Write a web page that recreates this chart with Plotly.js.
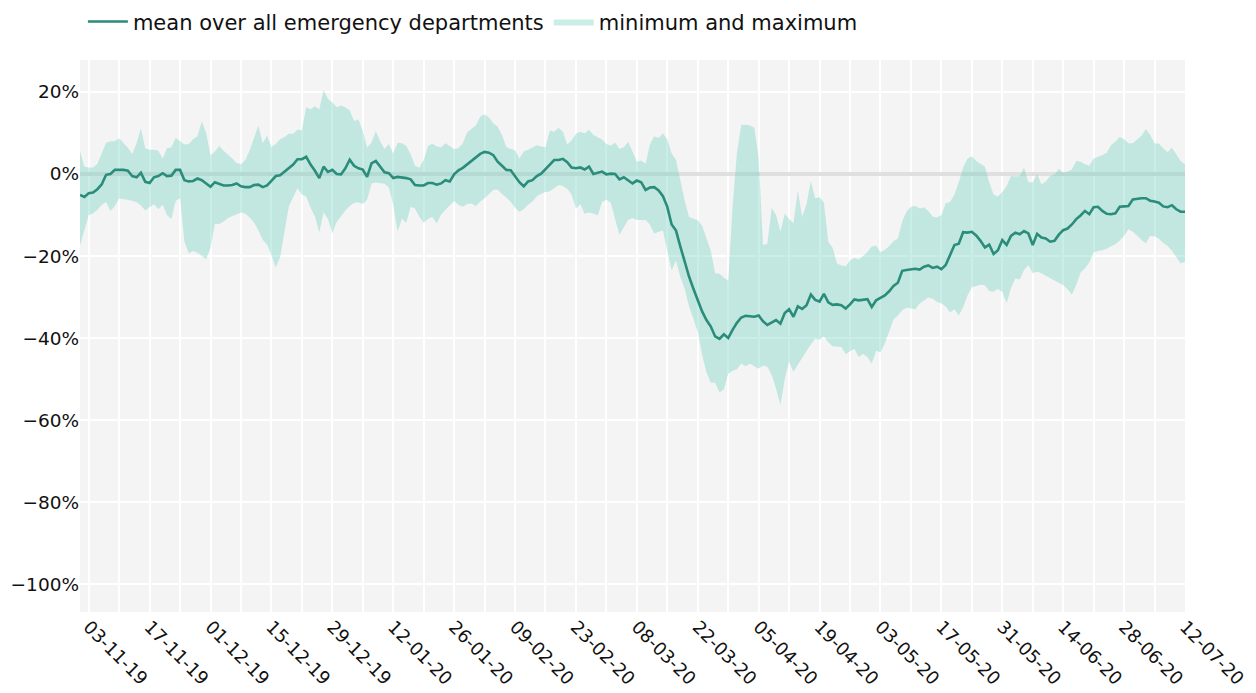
<!DOCTYPE html>
<html>
<head>
<meta charset="utf-8">
<script src="https://cdn.plot.ly/plotly-3.0.1.min.js"></script>
<style>html,body{margin:0;padding:0;background:#fff;}#chart{width:1256px;height:693px;}</style>
</head>
<body>
<div id="chart"></div>
<script>
// Daily series, first day 2019-11-01, last day 2020-07-12 (values in %)
var startDate = '2019-11-01';

var meanValues = [
-5.1,-5.6,-4.7,-4.5,-3.7,-2.5,-0.2,0.0,1.0,1.0,
1.0,0.8,-0.5,-0.8,0.3,-1.9,-2.2,-0.8,-0.5,0.2,
-0.5,-0.4,1.0,1.0,-1.5,-1.8,-1.7,-1.1,-1.5,-2.3,
-3.1,-2.0,-2.4,-2.8,-2.8,-2.7,-2.3,-3.0,-3.2,-3.2,
-2.7,-2.6,-3.2,-2.8,-1.7,-0.5,-0.3,0.5,1.3,2.3,
3.6,3.6,4.2,2.3,0.8,-1.0,1.8,0.5,1.0,0.0,
-0.1,1.4,3.5,2.0,1.4,1.1,-0.7,2.6,3.2,1.8,
0.4,0.2,-1.0,-0.7,-0.8,-1.0,-1.3,-2.7,-2.8,-2.8,
-2.2,-2.2,-2.6,-2.3,-1.5,-1.8,-0.1,0.9,1.5,2.4,
3.3,4.2,4.9,5.4,5.2,4.6,3.0,2.0,1.0,0.9,
-0.7,-2.0,-3.0,-1.8,-1.5,-0.5,0.1,1.2,2.3,3.4,
3.4,3.7,2.9,1.6,1.4,1.6,1.1,1.8,0.0,0.3,
0.6,-0.1,0.1,0.0,-1.3,-0.8,-1.6,-2.3,-1.6,-2.0,
-3.9,-3.3,-3.2,-4.0,-5.4,-8.0,-12.3,-13.8,-17.7,-21.5,
-25.0,-28.0,-30.8,-33.5,-35.6,-37.2,-39.6,-40.2,-39.1,-40.0,
-38.0,-36.3,-35.0,-34.6,-34.7,-34.8,-34.5,-35.9,-36.8,-36.2,
-35.6,-36.5,-33.9,-33.0,-34.8,-32.3,-32.9,-32.0,-29.4,-30.7,
-31.1,-29.2,-31.3,-31.9,-31.8,-32.0,-32.8,-31.8,-30.6,-30.8,
-30.7,-30.5,-32.4,-30.8,-30.2,-29.6,-28.6,-27.3,-26.5,-23.6,
-23.4,-23.3,-23.1,-23.3,-22.6,-22.3,-22.9,-22.6,-23.2,-22.2,
-19.5,-17.3,-17.0,-14.2,-14.3,-14.1,-15.0,-16.3,-17.9,-17.2,
-19.5,-18.6,-16.1,-17.3,-15.1,-14.3,-14.7,-13.9,-14.5,-17.3,
-14.6,-15.5,-15.7,-16.5,-16.3,-14.8,-13.7,-13.3,-12.3,-11.0,
-10.1,-9.0,-9.8,-8.1,-8.0,-9.0,-9.7,-9.8,-9.6,-8.0,
-7.9,-7.8,-6.2,-6.0,-5.9,-5.9,-6.5,-6.7,-7.0,-7.9,
-8.1,-7.6,-8.6,-9.2,-9.2
];

var maxValues = [
5.6,1.8,1.6,1.6,2.5,5.0,7.6,8.0,8.0,8.7,
7.6,6.4,4.9,7.5,11.1,6.2,5.9,5.9,5.7,3.8,
6.3,6.5,8.8,7.9,7.2,7.3,8.5,9.2,12.8,10.0,
4.6,5.5,6.8,5.7,4.8,3.8,2.7,2.4,3.4,5.8,
8.8,11.8,7.5,9.4,6.6,7.3,8.5,9.0,9.8,9.8,
10.8,10.7,16.3,15.8,16.5,15.7,20.5,18.3,17.5,16.3,
16.7,16.3,15.5,12.9,13.3,10.5,6.4,7.7,10.4,8.0,
6.1,7.3,5.0,7.6,7.5,6.8,4.8,2.0,1.5,3.4,
6.8,7.4,6.7,6.5,7.5,6.7,6.1,6.3,7.5,10.2,
10.9,11.8,14.0,14.6,13.8,12.4,11.5,9.5,6.5,6.1,
5.8,3.8,5.5,5.9,6.5,7.0,6.7,6.5,10.6,10.3,
11.3,10.3,7.2,8.2,9.8,10.3,9.9,10.8,9.5,9.0,
8.4,7.3,6.9,7.7,6.1,6.5,7.8,5.5,3.0,3.3,
2.5,7.2,9.2,8.8,9.9,8.5,5.0,3.4,-1.5,-6.5,
-10.5,-11.0,-11.3,-12.6,-15.5,-18.8,-24.2,-24.3,-25.3,-26.0,
-8.0,5.0,12.0,12.0,11.8,11.3,4.0,-17.3,-17.0,-8.3,
-10.0,-14.0,-9.7,-11.0,-12.0,-4.0,-10.5,-7.4,-1.7,-6.0,
-5.6,-7.0,-16.5,-18.0,-21.8,-22.3,-22.5,-21.0,-20.5,-20.8,
-20.0,-19.0,-17.7,-17.5,-19.0,-18.5,-17.6,-16.4,-15.7,-11.5,
-9.2,-8.0,-7.8,-8.4,-8.1,-9.0,-10.4,-10.6,-10.0,-7.1,
-6.8,-5.0,-2.0,1.6,3.7,4.3,3.2,2.5,1.8,-2.0,
-5.0,-5.5,-4.4,-3.0,-0.5,-0.6,-0.5,1.5,-2.0,-2.0,
0.0,-2.5,-1.8,-0.5,-0.1,1.3,0.3,0.6,1.1,3.2,
3.0,2.4,2.0,3.8,4.2,4.6,5.2,7.0,7.9,9.0,
8.5,7.5,7.5,8.4,9.3,10.9,9.5,7.5,7.4,6.3,
5.3,6.4,4.7,3.2,2.4
];

var minValues = [
-17.5,-13.5,-10.0,-9.6,-8.7,-7.5,-6.8,-9.0,-7.8,-6.0,
-6.1,-6.3,-6.5,-6.9,-7.6,-8.9,-8.1,-7.4,-8.6,-7.5,
-10.0,-11.0,-6.5,-6.0,-16.5,-19.3,-18.8,-19.2,-20.0,-20.8,
-18.0,-12.2,-12.2,-11.6,-10.7,-10.3,-9.8,-9.4,-9.7,-10.6,
-11.8,-13.7,-16.0,-17.2,-19.8,-22.8,-20.3,-14.0,-7.9,-5.6,
-3.5,-5.0,-5.5,-8.2,-10.3,-14.2,-9.3,-11.0,-14.5,-11.7,
-10.2,-8.9,-7.8,-7.0,-6.9,-7.3,-6.3,-2.3,-2.1,-2.3,
-2.4,-3.3,-7.5,-14.0,-10.9,-11.9,-8.0,-8.4,-10.4,-11.9,
-10.9,-10.5,-12.0,-9.9,-8.7,-7.6,-6.6,-7.5,-8.0,-7.3,
-7.2,-7.8,-6.7,-6.0,-4.9,-3.9,-3.8,-4.9,-5.7,-6.8,
-8.2,-9.2,-8.6,-7.5,-6.7,-5.4,-4.8,-4.4,-4.2,-3.4,
-2.7,-2.9,-3.6,-5.0,-8.5,-7.3,-9.7,-9.4,-9.6,-10.1,
-6.8,-6.3,-7.0,-11.0,-14.8,-13.0,-11.2,-10.7,-11.2,-11.2,
-11.2,-12.3,-14.5,-14.1,-13.8,-18.8,-23.5,-21.1,-25.1,-28.0,
-32.3,-35.3,-38.5,-44.0,-48.4,-50.9,-50.9,-53.3,-52.5,-48.7,
-48.0,-47.6,-46.2,-46.9,-46.2,-46.9,-47.5,-46.7,-47.0,-49.0,
-52.3,-56.3,-50.0,-45.8,-48.2,-46.5,-44.8,-43.0,-41.5,-40.2,
-40.4,-39.6,-41.0,-42.0,-42.1,-42.2,-43.9,-43.3,-42.6,-44.6,
-43.8,-44.6,-46.2,-43.1,-43.5,-41.3,-38.5,-35.5,-34.5,-33.2,
-32.6,-32.8,-33.0,-31.6,-30.8,-30.1,-30.4,-31.2,-31.6,-32.3,
-33.8,-33.0,-34.5,-32.5,-29.6,-27.6,-27.3,-27.0,-27.1,-28.5,
-28.7,-28.0,-28.8,-31.5,-27.8,-25.5,-25.7,-23.4,-22.2,-24.2,
-23.8,-24.2,-24.8,-25.4,-25.9,-26.4,-27.1,-28.1,-29.4,-27.0,
-24.0,-23.0,-21.6,-19.2,-18.8,-18.6,-18.2,-17.6,-17.1,-16.2,
-15.1,-13.5,-14.1,-15.0,-16.1,-16.9,-15.1,-15.2,-15.8,-16.8,
-17.5,-18.7,-20.2,-21.8,-21.4
];

var yTickValues = [-100, -80, -60, -40, -20, 0, 20];
var yTickLabels = ['\u2212100%', '\u221280%', '\u221260%', '\u221240%', '\u221220%', '0%', '20%'];
var seriesNames = ['mean over all emergency departments', 'minimum and maximum'];

function buildDates(start, n) {
  var out = [];
  var t0 = Date.parse(start + 'T00:00:00Z');
  for (var i = 0; i < n; i++) {
    var d = new Date(t0 + i * 86400000);
    out.push(d.toISOString().slice(0, 10));
  }
  return out;
}
var dates = buildDates(startDate, meanValues.length);

var lineColor = '#2a8c7a';
var fillColor = 'rgba(100,205,185,0.35)';
var DAY = 86400000;

var traces = [
  {
    x: dates, y: minValues, type: 'scatter', mode: 'lines',
    line: {width: 0, color: fillColor}, showlegend: false, hoverinfo: 'skip'
  },
  {
    x: dates, y: maxValues, type: 'scatter', mode: 'lines',
    fill: 'tonexty', fillcolor: fillColor,
    line: {width: 0, color: fillColor},
    name: seriesNames[1], legendrank: 2
  },
  {
    x: dates, y: meanValues, type: 'scatter', mode: 'lines',
    line: {width: 2.6, color: lineColor},
    name: seriesNames[0], legendrank: 1
  }
];

var layout = {
  width: 1256, height: 693,
  margin: {l: 80, r: 71, t: 60, b: 81},
  paper_bgcolor: '#ffffff',
  plot_bgcolor: '#f4f4f4',
  font: {family: 'DejaVu Sans, Verdana, sans-serif', size: 18, color: '#111111'},
  showlegend: true,
  legend: {
    orientation: 'h', xref: 'container', x: 0.066, xanchor: 'left',
    yref: 'container', y: 0.998, yanchor: 'top',
    font: {size: 21}, itemwidth: 40, traceorder: 'normal',
    bgcolor: 'rgba(0,0,0,0)'
  },
  xaxis: {
    type: 'date',
    range: [dates[0], dates[dates.length - 1]],
    tick0: '2019-11-03', dtick: 14 * DAY,
    tickformat: '%d-%m-%y', tickangle: 45,
    showgrid: true, gridcolor: '#ffffff', gridwidth: 2,
    minor: {dtick: 7 * DAY, tick0: '2019-11-03', showgrid: true, gridcolor: '#ffffff', gridwidth: 2},
    zeroline: false, showline: false, ticks: '',
    tickfont: {size: 18}
  },
  yaxis: {
    range: [-106.8, 27.8],
    tickmode: 'array', tickvals: yTickValues, ticktext: yTickLabels,
    showgrid: true, gridcolor: '#ffffff', gridwidth: 2,
    zeroline: true, zerolinecolor: '#e0e0e0', zerolinewidth: 4,
    showline: false, ticks: '',
    tickfont: {size: 18.5}
  }
};

Plotly.newPlot('chart', traces, layout, {displayModeBar: false, staticPlot: true});
</script>
</body>
</html>
